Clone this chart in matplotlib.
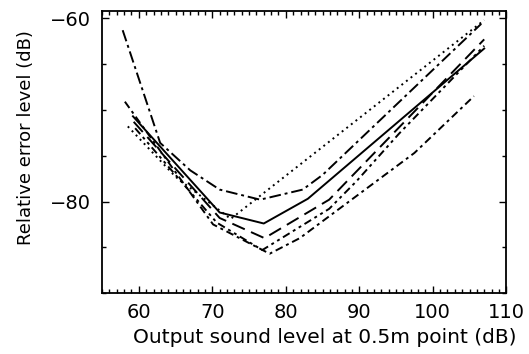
import matplotlib
matplotlib.use("Agg")
import matplotlib.pyplot as plt
from matplotlib.ticker import MultipleLocator

xA = [57.8, 62.9, 67, 71, 76.5, 82.3, 85, 106.6]
yA = [-61.3, -73.6, -76.6, -78.7, -79.8, -78.7, -77.1, -60.6]

xSolid = [59.2, 71, 77, 83, 107]
ySolid = [-70.7, -81.2, -82.4, -79.7, -63.3]

xLong = [59.3, 71, 77.1, 85.9, 107]
yLong = [-71.3, -81.8, -84.0, -79.8, -62.3]

xShort = [59.5, 70.6, 76.8, 85.9, 89.6, 95.4, 107]
yShort = [-72.0, -82.3, -85.3, -80.8, -77.8, -72.6, -63.0]

xDot = [58.5, 65, 72.5, 107]
yDot = [-71.8, -77.3, -81.9, -60.2]

xB = [58.1, 70.1, 77.8, 81.9, 97.5, 105.6]
yB = [-69.1, -82.5, -85.7, -84.0, -74.7, -68.5]

plt.rcParams['font.family'] = ['DejaVu Sans']

fig = plt.figure(figsize=(5.29, 3.54), dpi=100)
ax = fig.add_axes([0.193, 0.172, 0.764, 0.797])

lw = 1.4
ax.plot(xA, yA, color='black', linewidth=lw, linestyle=(0, (6, 2, 1.5, 2)))
ax.plot(xDot, yDot, color='black', linewidth=lw, linestyle=(0, (1, 2)))
ax.plot(xSolid, ySolid, color='black', linewidth=lw, linestyle='-')
ax.plot(xLong, yLong, color='black', linewidth=lw, linestyle=(0, (7, 3.5)))
ax.plot(xShort, yShort, color='black', linewidth=lw, linestyle=(0, (4, 2, 1.5, 2, 1.5, 2)))
ax.plot(xB, yB, color='black', linewidth=lw, linestyle=(0, (4, 2, 1.5, 2)))

ax.set_xlim(55, 110)
ax.set_ylim(-90, -59.2)
ax.xaxis.set_major_locator(MultipleLocator(10))
ax.xaxis.set_minor_locator(MultipleLocator(1))
ax.yaxis.set_major_locator(MultipleLocator(20))
ax.yaxis.set_minor_locator(MultipleLocator(5))
ax.tick_params(which='both', direction='in', top=True, right=True, width=1.0)
ax.tick_params(which='major', length=5, labelsize=14)
ax.tick_params(axis='x', which='major', pad=7)
ax.tick_params(axis='y', which='major', pad=8)
ax.tick_params(which='minor', length=3)
for s in ax.spines.values():
    s.set_linewidth(1.3)

ax.set_xlabel("Output sound level at 0.5m point (dB)", fontsize=14.5)
ax.set_ylabel("Relative error level (dB)", fontsize=13)
ax.xaxis.set_label_coords(0.552, -0.125)
ax.yaxis.set_label_coords(-0.165, 0.553)

fig.savefig("out.png", dpi=100)
